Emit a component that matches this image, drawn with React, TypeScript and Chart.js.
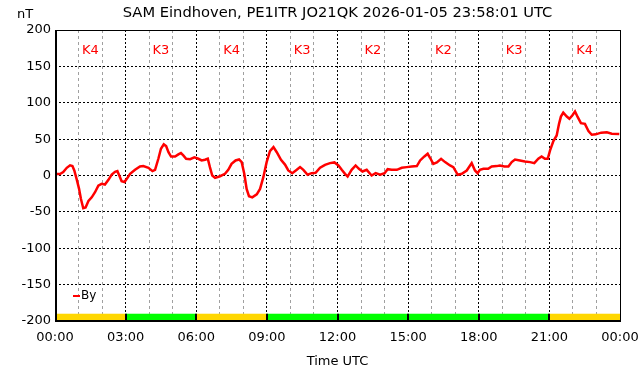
import React, { useEffect, useRef } from 'react';
import { Chart, registerables } from 'chart.js';

Chart.register(...registerables);

const TITLE = 'SAM Eindhoven, PE1ITR JO21QK 2026-01-05 23:58:01 UTC';
const Y_UNIT = 'nT';
const X_TITLE = 'Time UTC';
const SERIES_NAME = 'By';

const HOURS = [
  0, 0.21, 0.35, 0.5, 0.64, 0.74, 0.82, 0.92, 1.02, 1.1, 1.2, 1.3, 1.42, 1.56, 1.7, 1.84, 1.98, 2.12,
  2.27, 2.41, 2.55, 2.65, 2.73, 2.83, 2.95, 3.05, 3.19, 3.4, 3.61, 3.75, 3.97, 4.14, 4.25, 4.39, 4.5,
  4.62, 4.72, 4.82, 4.93, 5.1, 5.24, 5.35, 5.45, 5.57, 5.74, 5.92,
  6.09, 6.23, 6.37, 6.49, 6.58, 6.68, 6.8, 7.01, 7.22, 7.36, 7.5, 7.67, 7.82, 7.93, 8.04, 8.14, 8.24,
  8.38, 8.57, 8.71, 8.85, 8.99, 9.13, 9.28, 9.42, 9.6, 9.77, 9.91, 10.08, 10.27, 10.41, 10.55, 10.73,
  10.9, 11.07, 11.26, 11.47, 11.68, 11.87,
  12.04, 12.18, 12.32, 12.43, 12.6, 12.77, 12.91, 13.06, 13.24, 13.45, 13.62, 13.81, 14.0, 14.13, 14.3,
  14.52, 14.73, 14.94, 15.15, 15.37, 15.51, 15.69, 15.83, 15.93, 16.07, 16.22, 16.4, 16.57, 16.78,
  16.92, 17.11, 17.28, 17.49, 17.7,
  17.84, 17.95, 18.05, 18.2, 18.4, 18.55, 18.76, 18.9, 19.09, 19.26, 19.4, 19.54, 19.75, 19.96, 20.18,
  20.36, 20.53, 20.67, 20.81, 20.93, 21.03, 21.17, 21.31, 21.41, 21.49, 21.59, 21.74, 21.85, 21.98,
  22.09, 22.2, 22.34, 22.51, 22.66, 22.8, 22.97, 23.2, 23.44, 23.65, 23.97,
];

const BY_VALUES = [
  2, 2, 4.6, 10.6, 14, 13, 7, -5, -18, -32, -45, -44, -35, -30, -23, -14, -11.5, -12.4,
  -6, 1.4, 5, 6, 0, -8, -9, -4.6, 2.3, 7.8, 12.4, 12.9, 10.6, 6, 7.8, 23, 36.8,
  42.8, 40.5, 32, 26, 26, 29, 30.8, 27.6, 23, 22.5, 25,
  23, 20.7, 21.6, 23, 11.5, 0, -3.2, -1, 2.3, 7.8, 16, 20.7, 22, 18.4, 2.3, -18.4, -28.5,
  -30, -26, -18.4, -2.3, 18.4, 33.6, 39, 32, 21.6, 15, 7, 3.2, 7.8, 11.5, 7.8, 1,
  3.2, 3.7, 10.6, 14.7, 17, 18,
  13.8, 7.8, 2.3, -1.4, 7.8, 13.8, 9.2, 5.5, 7.8, 0, 3.2, 1, 3.2, 8.7, 7.8,
  7.8, 10.6, 11.5, 12.4, 12.9, 20.7, 26.2, 29.9, 24.4, 16, 18, 23, 18.4, 13.8,
  11.5, 1, 2.3, 6.9, 17,
  6.9, 3.2, 7.8, 9.2, 9.2, 12.4, 12.9, 13.8, 12.4, 12.4, 18.4, 22, 20.7, 19.3, 18.4,
  17, 23, 26.2, 23, 23, 34.5, 47.4, 55, 71, 81, 86.4, 81, 78, 82.8,
  88, 80.5, 72, 71, 61, 56, 56.6, 58.9, 59.3, 57.5, 57,
];

const K_VALUES = [4, 3, 4, 3, 2, 2, 3, 4];
const K_BLOCK_HOURS = 3;
const K_BAND = [-200, -190];

const X_TICKS = [0, 1, 2, 3, 4, 5, 6, 7, 8, 9, 10, 11, 12, 13, 14, 15, 16, 17, 18, 19, 20, 21, 22, 23, 24];
const Y_TICKS = [-200, -150, -100, -50, 0, 50, 100, 150, 200];

const FONT = 'DejaVu Sans';

function kColor(k: number) {
  if (k >= 5) return '#ff0000';
  if (k >= 4) return '#ffd700';
  return '#00ff00';
}

function fmtHour(v: number) {
  const h = Math.round(v) % 24;
  return (h < 10 ? '0' : '') + h + ':00';
}

const overlay = {
  id: 'overlay',
  beforeDatasetsDraw(chart: any) {
    const { ctx, scales } = chart;
    const x = scales.x;
    const y = scales.y;
    const yTop = y.getPixelForValue(K_BAND[1]);
    const yBot = y.getPixelForValue(K_BAND[0]);
    ctx.save();
    K_VALUES.forEach((k, i) => {
      const x0 = x.getPixelForValue(i * K_BLOCK_HOURS);
      const x1 = x.getPixelForValue((i + 1) * K_BLOCK_HOURS);
      ctx.fillStyle = kColor(k);
      ctx.fillRect(x0, yTop, x1 - x0, yBot - yTop);
    });
    ctx.strokeStyle = '#000';
    ctx.lineWidth = 2;
    for (let i = 1; i < K_VALUES.length; i++) {
      const xp = Math.round(x.getPixelForValue(i * K_BLOCK_HOURS));
      ctx.beginPath();
      ctx.moveTo(xp, yTop);
      ctx.lineTo(xp, yBot);
      ctx.stroke();
    }
    ctx.restore();
  },
  afterDatasetsDraw(chart: any) {
    const { ctx, chartArea: a, scales } = chart;
    const x = scales.x;
    const y = scales.y;
    ctx.save();
    // frame
    ctx.strokeStyle = '#000';
    ctx.lineWidth = 1;
    ctx.strokeRect(Math.round(a.left) + 0.5, Math.round(a.top) + 0.5, Math.round(a.right - a.left), Math.round(a.bottom - a.top));
    ctx.beginPath();
    ctx.moveTo(Math.round(a.left) + 1.5, a.top);
    ctx.lineTo(Math.round(a.left) + 1.5, a.bottom);
    ctx.moveTo(a.left, Math.round(a.bottom) - 0.5);
    ctx.lineTo(a.right, Math.round(a.bottom) - 0.5);
    ctx.stroke();

    // K labels
    ctx.fillStyle = '#ff0000';
    ctx.font = `13px "${FONT}"`;
    ctx.textAlign = 'center';
    ctx.textBaseline = 'middle';
    K_VALUES.forEach((k, i) => {
      const xc = x.getPixelForValue((i + 0.5) * K_BLOCK_HOURS);
      ctx.fillText('K' + k, xc, y.getPixelForValue(172));
    });

    // title
    ctx.fillStyle = '#000';
    ctx.font = `14.7px "${FONT}"`;
    ctx.fillText(TITLE, (a.left + a.right) / 2, 13);
    // unit
    ctx.font = `13px "${FONT}"`;
    ctx.fillText(Y_UNIT, 25, 15);
    // x title
    ctx.fillText(X_TITLE, (a.left + a.right) / 2, 362);

    // legend
    const ly = 296;
    ctx.strokeStyle = '#ff0000';
    ctx.lineWidth = 2;
    ctx.beginPath();
    ctx.moveTo(73, ly);
    ctx.lineTo(80, ly);
    ctx.stroke();
    ctx.fillStyle = '#000';
    ctx.font = `12px "${FONT}"`;
    ctx.textAlign = 'left';
    ctx.fillText(SERIES_NAME, 81, ly);
    ctx.restore();
  },
};

export default function App() {
  const ref = useRef<HTMLCanvasElement>(null);
  useEffect(() => {
    if (!ref.current) return;
    const points = HOURS.map((h, i) => ({ x: h, y: BY_VALUES[i] }));
    const chart = new Chart(ref.current, {
      type: 'line',
      data: {
        datasets: [
          {
            label: SERIES_NAME,
            data: points,
            borderColor: '#ff0000',
            backgroundColor: '#ff0000',
            borderWidth: 2.5,
            pointRadius: 0,
            tension: 0,
            fill: false,
          },
        ],
      },
      options: {
        animation: false,
        responsive: false,
        maintainAspectRatio: false,
        layout: { padding: { top: 30, right: 22, left: 0, bottom: 0 } },
        plugins: { legend: { display: false }, title: { display: false }, tooltip: { enabled: false } },
        scales: {
          x: {
            type: 'linear',
            min: 0,
            max: 24,
            afterBuildTicks: (s: any) => {
              s.ticks = X_TICKS.map((v) => ({ value: v }));
            },
            afterFit: (s: any) => {
              s.height = 55;
              s.paddingLeft = 0;
              s.paddingRight = 0;
              s.paddingTop = 0;
              s.paddingBottom = 0;
            },
            ticks: {
              autoSkip: false,
              maxRotation: 0,
              padding: 9,
              color: '#000',
              font: { family: FONT, size: 13 },
              callback: (v: any) => (Number(v) % 3 === 0 ? fmtHour(Number(v)) : ''),
            },
            grid: {
              drawTicks: false,
              lineWidth: 1,
              color: (c: any) => (c.tick && c.tick.value % 3 !== 0 ? '#a0a0a0' : '#000'),
            },
            border: {
              display: false,
              dash: (c: any) => (c.tick && c.tick.value % 3 !== 0 ? [3, 3] : [2, 2]),
            },
          },
          y: {
            type: 'linear',
            min: -200,
            max: 200,
            afterBuildTicks: (s: any) => {
              s.ticks = Y_TICKS.map((v) => ({ value: v }));
            },
            afterFit: (s: any) => {
              s.width = 55;
              s.paddingLeft = 0;
              s.paddingRight = 0;
              s.paddingTop = 0;
              s.paddingBottom = 0;
            },
            ticks: {
              padding: 4,
              color: '#000',
              font: { family: FONT, size: 13 },
            },
            grid: { drawTicks: false, lineWidth: 1, color: '#000' },
            border: { display: false, dash: [2, 2] },
          },
        },
      },
      plugins: [overlay],
    });
    return () => chart.destroy();
  }, []);
  return (
    <div style={{ position: 'absolute', left: 0, top: 0, width: 642, height: 376, background: '#fff' }}>
      <canvas ref={ref} width={642} height={376} />
    </div>
  );
}
